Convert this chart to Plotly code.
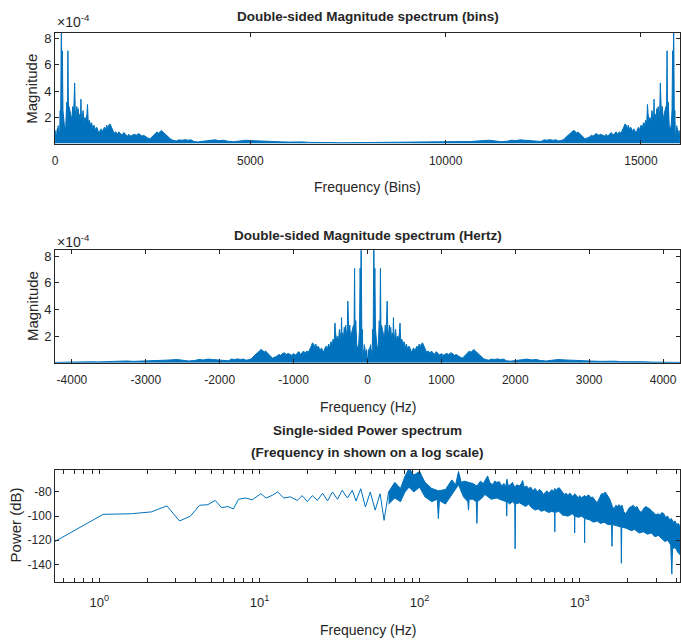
import numpy as np
import plotly.graph_objects as go

# Signal / FFT parameters
fs = 8458.0          # sampling rate (Hz)
n_fft = 16000        # FFT length (bins)

# Low-frequency part of the single-sided spectrum (Hz, dB)
lf_hz = [0.528, 1.057, 1.585, 2.11, 2.64, 3.17, 3.70, 4.23, 4.76, 5.29, 5.81, 6.34,
         6.87, 7.40, 8.2, 9.0, 10.2, 11.0, 12.0, 13.0, 14.2, 15.6, 17.2, 18.5, 19.9,
         21.4, 23.0, 24.8, 26.6, 28.6, 30.7, 32.9, 35.4, 38.0, 40.1, 42.9, 45.9,
         49.2, 52.8, 56.7, 60.0]
lf_db = [-121, -98.5, -98, -96.5, -91.5, -104, -100, -91, -90.5, -87, -93, -92,
         -94, -86, -85, -86.5, -81.4, -85, -82.8, -80, -85, -84, -87, -83, -88,
         -83, -87, -81, -87.4, -80, -86, -78.6, -85, -78.6, -87.4, -77.3, -92.4,
         -80, -95, -81.4, -103.5]

# Upper envelope of the dense spectrum above 64 Hz (Hz, dB)
band_hi_hz = [64, 70, 76, 81, 86, 92, 100, 108, 119, 131, 145, 159, 168, 175, 182,
              190, 202, 215, 228, 240, 250, 258, 266, 274, 285, 295, 303, 315, 325,
              336, 344, 351, 358, 368, 380, 392, 405, 420, 432, 440, 450, 465, 480,
              495, 510, 526, 545, 560, 575, 592, 609, 625, 640, 655, 670, 685, 699,
              712, 728, 745, 760, 778, 800, 822, 845, 865, 885, 905, 930, 955, 980,
              1000, 1020, 1045, 1073, 1100, 1125, 1150, 1175, 1200, 1225, 1250, 1285,
              1310, 1340, 1360, 1380, 1400, 1420, 1440, 1460, 1480, 1510, 1540, 1570,
              1600, 1640, 1680, 1720, 1760, 1800, 1840, 1880, 1930, 1980, 2040, 2100,
              2160, 2220, 2280, 2340, 2420, 2500, 2580, 2660, 2740, 2820, 2900, 2990,
              3080, 3170, 3260, 3350, 3440, 3540, 3640, 3740, 3840, 3940, 4040, 4140,
              4229]
band_hi_db = [-80, -72, -77, -67, -60.5, -66, -63, -72, -77, -79, -78, -70, -74, -63, -72,
              -71, -72, -73, -75, -71, -73, -70, -66.7, -72, -74, -71, -72, -71.5, -75,
              -73, -76, -69.4, -75, -74, -72, -76, -74, -75, -73, -70.5, -76, -75, -77,
              -76, -79, -77, -80, -78, -79, -82, -80, -79, -81, -79, -78, -80, -77,
              -79, -77, -76.5, -78, -80, -82, -81, -83, -81, -82, -84, -81.5, -83, -85,
              -83, -85, -84, -83, -84, -82.5, -83, -85, -84, -86, -87, -89,
              -86, -84, -82, -81, -82, -80.5, -80, -81, -82, -84, -86, -90,
              -92, -94, -91, -92, -90.5, -92, -91, -96, -98, -96, -93, -92,
              -91, -93, -92, -95, -97, -94, -92, -93, -94, -96, -97, -99,
              -98, -99, -97, -98, -101, -100, -103, -102, -105, -104, -107, -106,
              -109]

# Lower envelope of the dense spectrum above 64 Hz (Hz, dB)
band_lo_hz = [64, 70, 76, 81, 86, 92, 100, 108, 119, 129, 131, 133, 145, 159, 175,
              188, 200, 202, 204, 215, 226, 228, 230, 245, 256, 280, 303, 330, 348,
              350, 352, 365, 380, 393, 395, 397, 420, 434, 460, 480, 500, 526, 550,
              575, 600, 640, 670, 697, 699, 701, 740, 780, 845, 900, 928, 930, 932,
              980, 1030, 1070, 1073, 1076, 1150, 1220, 1285, 1350, 1420, 1500, 1580,
              1590, 1600, 1700, 1810, 1820, 1830, 1950, 2100, 2200, 2350, 2500, 2650,
              2800, 2950, 3100, 3250, 3400, 3550, 3700, 3760, 3800, 3950, 4100, 4229]
band_lo_db = [-90, -85, -88, -80, -76, -80, -76, -84, -88, -86, -102, -87, -90, -82, -74,
              -84, -88, -95, -86, -86, -88, -106, -88, -85, -82, -86, -85, -87, -88,
              -100, -88, -90, -88, -90, -127, -90, -89, -90, -92, -90, -93, -95, -94,
              -96, -95, -97, -96, -97, -113, -97, -96, -99, -100, -98, -100, -114, -100,
              -101, -100, -102, -122, -102, -103, -105, -104, -106, -105, -107, -107,
              -125, -107, -108, -109, -139, -109, -110, -112, -111, -114, -113, -115,
              -114, -117, -116, -119, -121, -120, -124, -148, -127, -126, -130, -132]

# Axis tick values and labels
bin_ticks = [0, 5000, 10000, 15000]
hz_ticks = [-4000, -3000, -2000, -1000, 0, 1000, 2000, 3000, 4000]
mag_ticks = [2e-4, 4e-4, 6e-4, 8e-4]
mag_text = ["2", "4", "6", "8"]
db_ticks = [-140, -120, -100, -80]

BLUE = "#0072BD"
AX = "#262626"
FONT = "Liberation Sans, Arial, sans-serif"
W, H = 681, 642
ML, MR = 55, 0
PW = W - ML - MR

df = fs / n_fft
nyq = fs / 2

# Upper envelope for the linear-magnitude views
env_hz = np.array(lf_hz + band_hi_hz, dtype=float)
env_db = np.array(lf_db + band_hi_db, dtype=float)
env_mag = 10 ** (env_db / 20)

# Double-sided in bins: positive half, then the mirrored half
bins_pos = env_hz / df
bins_x = np.concatenate([bins_pos, (n_fft - bins_pos)[::-1]])
bins_y = np.concatenate([env_mag, env_mag[::-1]])

# Double-sided in Hz: negative half, then positive half
hz_x = np.concatenate([-env_hz[::-1], env_hz])
hz_y = np.concatenate([env_mag[::-1], env_mag])

fig = go.Figure()

fig.add_trace(go.Scatter(x=bins_x, y=bins_y, mode="lines", fill="tozeroy",
                         line=dict(color=BLUE, width=1), fillcolor=BLUE,
                         xaxis="x", yaxis="y", showlegend=False))
fig.add_trace(go.Scatter(x=hz_x, y=hz_y, mode="lines", fill="tozeroy",
                         line=dict(color=BLUE, width=1), fillcolor=BLUE,
                         xaxis="x2", yaxis="y2", showlegend=False))

# Single-sided power spectrum (dB) on a log frequency axis
fig.add_trace(go.Scatter(x=lf_hz + [band_hi_hz[0]], y=lf_db + [band_hi_db[0]],
                         mode="lines", line=dict(color=BLUE, width=1),
                         xaxis="x3", yaxis="y3", showlegend=False))
fig.add_trace(go.Scatter(x=band_hi_hz, y=band_hi_db, mode="lines",
                         line=dict(color=BLUE, width=1),
                         xaxis="x3", yaxis="y3", showlegend=False))
fig.add_trace(go.Scatter(x=band_lo_hz, y=band_lo_db, mode="lines", fill="tonexty",
                         line=dict(color=BLUE, width=1), fillcolor=BLUE,
                         xaxis="x3", yaxis="y3", showlegend=False))


def ydom(top_px, bottom_px):
    return [1 - bottom_px / H, 1 - top_px / H]


def axis_style(size=12):
    return dict(showline=True, linecolor=AX, linewidth=1, mirror="ticks",
                ticks="inside", ticklen=4, tickcolor=AX, tickwidth=1,
                showgrid=False, zeroline=False,
                tickfont=dict(family=FONT, size=size, color=AX))


def labels(vals):
    return [str(v) for v in vals]


mag_top = 8.44e-4

decades = [1, 10, 100, 1000]
log_ticks = [m * d for d in [0.1, 1, 10, 100, 1000] for m in range(1, 10)]
log_ticks = [t for t in log_ticks if df <= t <= nyq]
log_text = ["10<sup>%d</sup>" % int(round(np.log10(t))) if t in decades else ""
            for t in log_ticks]

fig.update_layout(
    width=W, height=H,
    margin=dict(l=ML, r=MR, t=0, b=0),
    paper_bgcolor="white", plot_bgcolor="white",
    font=dict(family=FONT, size=12, color=AX),
    xaxis=dict(domain=[0, 1], range=[0, n_fft], anchor="y",
               tickvals=bin_ticks, ticktext=labels(bin_ticks),
               ticklabelstandoff=6, **axis_style()),
    yaxis=dict(domain=ydom(31, 142), range=[0, mag_top], anchor="x",
               tickvals=mag_ticks, ticktext=mag_text, **axis_style(13)),
    xaxis2=dict(domain=[0, 1], range=[-nyq, nyq], anchor="y2",
                tickvals=hz_ticks, ticktext=labels(hz_ticks),
                ticklabelstandoff=6, **axis_style()),
    yaxis2=dict(domain=ydom(249, 362), range=[0, mag_top], anchor="x2",
                tickvals=mag_ticks, ticktext=mag_text, **axis_style(13)),
    xaxis3=dict(domain=[0, 1], type="log", range=[np.log10(df), np.log10(nyq)],
                anchor="y3", tickvals=log_ticks, ticktext=log_text,
                ticklabelstandoff=8, **axis_style(13)),
    yaxis3=dict(domain=ydom(469, 582), range=[-154.7, -61.4], anchor="x3",
                tickvals=db_ticks, ticktext=labels(db_ticks), **axis_style()),
)


def ann(text, x_px, y_px, size=13, angle=0, xanchor="center", yanchor="middle"):
    fig.add_annotation(text=text, x=(x_px - ML) / PW, y=1 - y_px / H,
                       xref="paper", yref="paper",
                       showarrow=False, textangle=angle, xanchor=xanchor,
                       yanchor=yanchor, font=dict(family=FONT, size=size, color=AX))


cx = (55 + 682) / 2
ann("<b>Double-sided Magnitude spectrum (bins)</b>", cx, 15, size=13.5)
ann("<b>Double-sided Magnitude spectrum (Hertz)</b>", cx, 234, size=13.5)
ann("<b>Single-sided Power spectrum</b>", cx, 430, size=13.5)
ann("<b>(Frequency in shown on a log scale)</b>", cx, 452, size=13.5)
ann("Frequency (Bins)", cx, 186, size=14)
ann("Frequency (Hz)", cx, 406, size=14)
ann("Frequency (Hz)", cx, 630, size=14)
ann("Magnitude", 32, 87, size=15, angle=-90)
ann("Magnitude", 32, 305, size=15, angle=-90)
ann("Power (dB)", 15, 525, size=15, angle=-90)
ann("\u00d710<sup>-4</sup>", 55, 19, size=14, xanchor="left")
ann("\u00d710<sup>-4</sup>", 55, 240, size=14, xanchor="left")

fig.write_html("out.html")
